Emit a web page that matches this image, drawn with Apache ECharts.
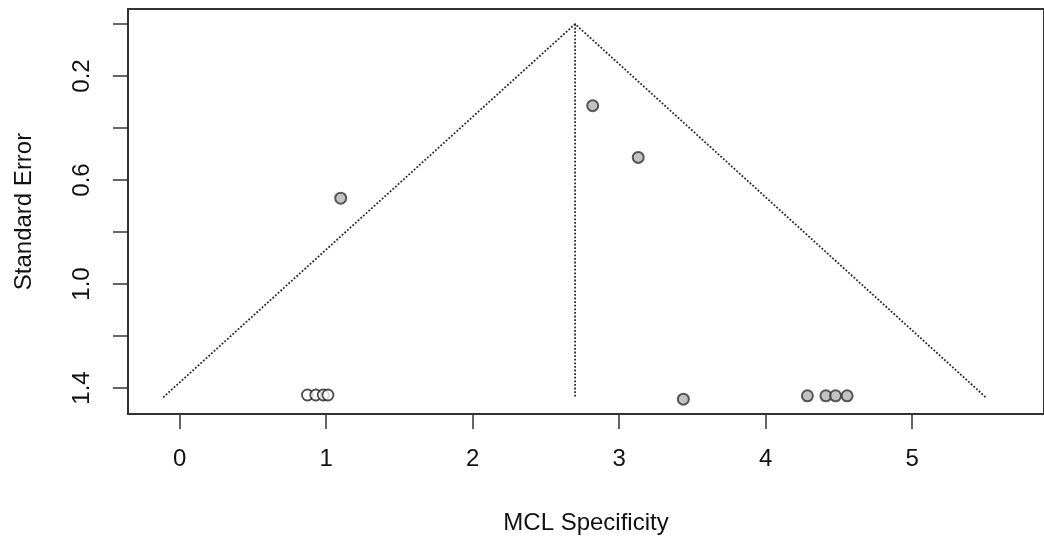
<!DOCTYPE html>
<html>
<head>
<meta charset="utf-8">
<script src="https://cdn.jsdelivr.net/npm/echarts@6/dist/echarts.min.js"></script>
<style>
  html, body { margin: 0; padding: 0; background: #fff; }
  #chart { width: 1044px; height: 543px; }
</style>
</head>
<body>
<div id="chart"></div>
<script>
// observed studies (effect, standard error)
let studyX = [1.099, 2.819, 3.130, 3.438, 4.285, 4.411, 4.477, 4.556];
let studySE = [0.670, 0.314, 0.513, 1.443, 1.430, 1.430, 1.430, 1.430];

// filled (imputed) studies
let filledX = [0.872, 0.929, 0.980, 1.012];
let filledSE = [1.427, 1.427, 1.427, 1.427];

// funnel outline and pooled estimate
let funnelX = [-0.113, 2.699, 5.503];
let funnelSE = [1.436, 0, 1.436];
let centerX = [2.699, 2.699];
let centerSE = [0, 1.436];

let xTicks = [0, 1, 2, 3, 4, 5];
let yTicks = [0, 0.2, 0.4, 0.6, 0.8, 1.0, 1.2, 1.4];
let yLabels = [0.2, 0.6, 1.0, 1.4];

function pairs(xs, ys) {
    return xs.map(function (x, i) { return [x, ys[i]]; });
}

let chart = echarts.init(document.getElementById('chart'));
let font = 'Liberation Sans, Arial, sans-serif';
let dotted = { color: '#2a2a2a', width: 1.8, type: [1.8, 1.8] };

let option = {
    animation: false,
    grid: {
        left: 128,
        top: 9,
        right: -5,
        bottom: 129,
        show: true,
        borderColor: '#333',
        borderWidth: 2
    },
    xAxis: {
        type: 'value',
        min: -0.353,
        max: 5.90,
        name: 'MCL Specificity',
        nameLocation: 'middle',
        nameGap: 97,
        nameTextStyle: { fontFamily: font, fontSize: 24, color: '#111' },
        axisLine: { show: true, onZero: false, lineStyle: { color: '#333', width: 2 } },
        axisTick: { show: true, length: 15, customValues: xTicks, lineStyle: { color: '#333', width: 1.5 } },
        axisLabel: {
            customValues: xTicks,
            margin: 33,
            fontFamily: font, fontSize: 24, color: '#111',
            formatter: function (v) { return String(v); }
        },
        splitLine: { show: false }
    },
    yAxis: {
        type: 'value',
        inverse: true,
        min: -0.0577,
        max: 1.5,
        name: 'Standard Error',
        nameLocation: 'middle',
        nameGap: 92,
        nameTextStyle: { fontFamily: font, fontSize: 24, color: '#111' },
        axisLine: { show: true, onZero: false, lineStyle: { color: '#333', width: 2 } },
        axisTick: { show: true, length: 15, customValues: yTicks, lineStyle: { color: '#333', width: 1.5 } },
        axisLabel: {
            customValues: yLabels,
            rotate: 90,
            margin: 34,
            fontFamily: font, fontSize: 24, color: '#111',
            formatter: function (v) { return v.toFixed(1); }
        },
        splitLine: { show: false }
    },
    series: [
        {
            name: 'funnel',
            type: 'line',
            data: pairs(funnelX, funnelSE),
            symbol: 'none',
            lineStyle: dotted,
            silent: true
        },
        {
            name: 'estimate',
            type: 'line',
            data: pairs(centerX, centerSE),
            symbol: 'none',
            lineStyle: dotted,
            silent: true
        },
        {
            name: 'filled',
            type: 'scatter',
            data: pairs(filledX, filledSE),
            symbol: 'circle',
            symbolSize: 11,
            itemStyle: { color: '#fff', borderColor: '#222', borderWidth: 1.8 }
        },
        {
            name: 'studies',
            type: 'scatter',
            data: pairs(studyX, studySE),
            symbol: 'circle',
            symbolSize: 11,
            itemStyle: { color: '#b4b4b4', borderColor: '#333', borderWidth: 2 }
        }
    ]
};
option && chart.setOption(option);
</script>
</body>
</html>
